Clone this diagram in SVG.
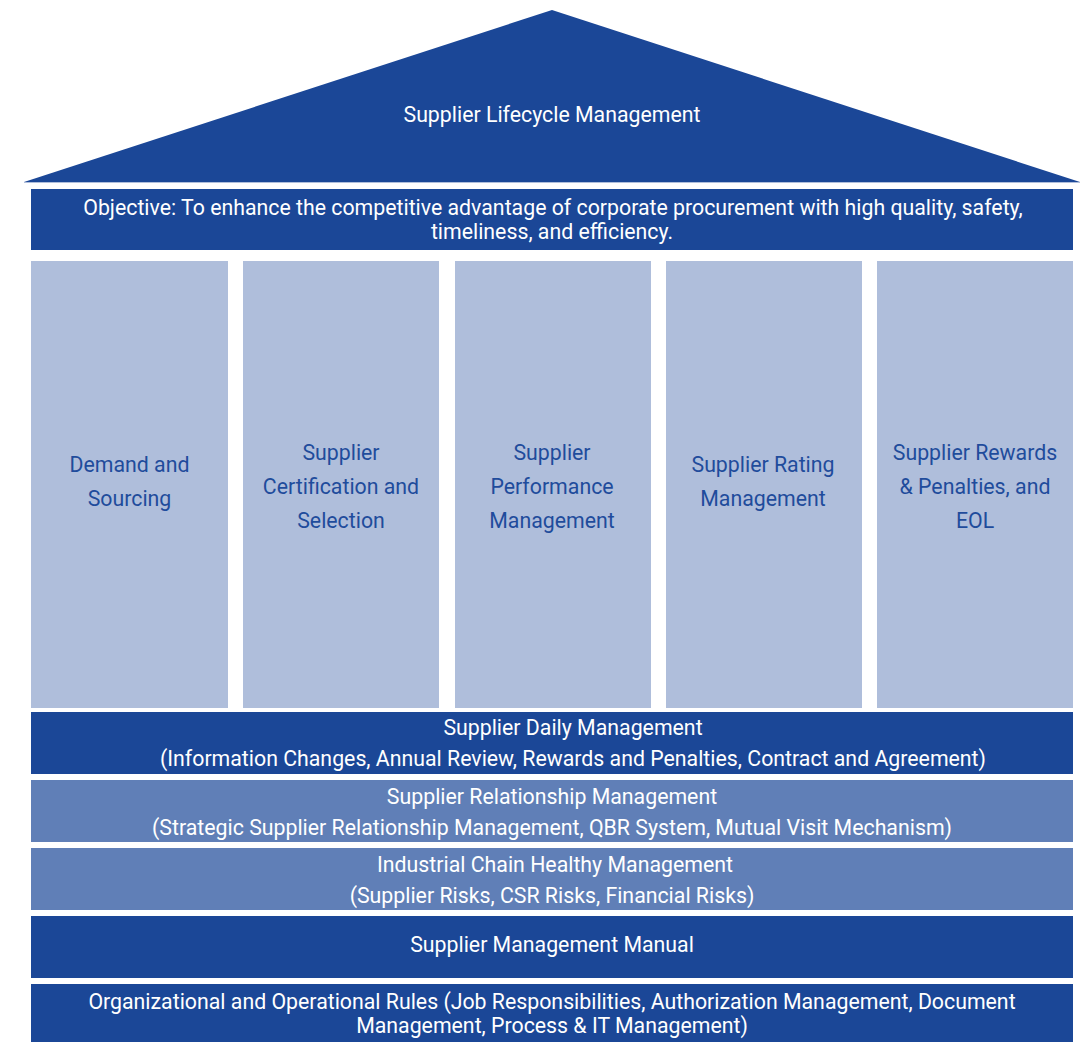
<svg xmlns="http://www.w3.org/2000/svg" width="1081" height="1042" viewBox="0 0 1081 1042">
<style>
.dark{fill:#1B4797}
.mid{fill:#607FB7}
.col{fill:#AFBEDB}
.w{fill:#FFFFFF;font-family:Roboto,"Liberation Sans",sans-serif;font-size:21.3px;text-anchor:middle}
.b{fill:#1F4C9C;font-family:Roboto,"Liberation Sans",sans-serif;font-size:21.3px;text-anchor:middle}
</style>
<rect width="1081" height="1042" fill="#FFFFFF"/>
<g id="roof">
<polygon class="dark" points="552,10 24,182 1080,182"/>
<line x1="24" y1="182.5" x2="1080" y2="182.5" stroke="#AFBEDB" stroke-width="1"/>
<text class="w" x="552" y="122">Supplier Lifecycle Management</text>
</g>
<g id="objective">
<rect class="dark" x="31" y="189" width="1042" height="61"/>
<text class="w" x="553" y="215">Objective: To enhance the competitive advantage of corporate procurement with high quality, safety,</text>
<text class="w" x="552" y="239">timeliness, and efficiency.</text>
</g>
<g id="pillar1">
<rect class="col" x="31" y="261" width="197" height="447"/>
<text class="b" x="129.5" y="472">Demand and</text>
<text class="b" x="129.5" y="506">Sourcing</text>
</g>
<g id="pillar2">
<rect class="col" x="243" y="261" width="196" height="447"/>
<text class="b" x="341" y="460">Supplier</text>
<text class="b" x="341" y="494">Certification and</text>
<text class="b" x="341" y="528">Selection</text>
</g>
<g id="pillar3">
<rect class="col" x="455" y="261" width="196" height="447"/>
<text class="b" x="552" y="460">Supplier</text>
<text class="b" x="552" y="494">Performance</text>
<text class="b" x="552" y="528">Management</text>
</g>
<g id="pillar4">
<rect class="col" x="666" y="261" width="196" height="447"/>
<text class="b" x="763" y="472">Supplier Rating</text>
<text class="b" x="763" y="506">Management</text>
</g>
<g id="pillar5">
<rect class="col" x="877" y="261" width="196" height="447"/>
<text class="b" x="975" y="460">Supplier Rewards</text>
<text class="b" x="975" y="494">&amp; Penalties, and</text>
<text class="b" x="975" y="528">EOL</text>
</g>
<g id="daily">
<rect class="dark" x="31" y="712" width="1042" height="62"/>
<text class="w" x="573" y="735">Supplier Daily Management</text>
<text class="w" x="573" y="766">(Information Changes, Annual Review, Rewards and Penalties, Contract and Agreement)</text>
</g>
<g id="relationship">
<rect class="mid" x="31" y="780" width="1042" height="62"/>
<text class="w" x="552" y="804">Supplier Relationship Management</text>
<text class="w" x="552" y="835">(Strategic Supplier Relationship Management, QBR System, Mutual Visit Mechanism)</text>
</g>
<g id="industrial">
<rect class="mid" x="31" y="848" width="1042" height="62"/>
<text class="w" x="555" y="872">Industrial Chain Healthy Management</text>
<text class="w" x="552" y="903">(Supplier Risks, CSR Risks, Financial Risks)</text>
</g>
<g id="manual">
<rect class="dark" x="31" y="916" width="1042" height="62"/>
<text class="w" x="552" y="952">Supplier Management Manual</text>
</g>
<g id="rules">
<rect class="dark" x="31" y="984" width="1042" height="58"/>
<text class="w" x="552" y="1009">Organizational and Operational Rules (Job Responsibilities, Authorization Management, Document</text>
<text class="w" x="552" y="1033">Management, Process &amp; IT Management)</text>
</g>
<g id="connectors"></g>
</svg>
